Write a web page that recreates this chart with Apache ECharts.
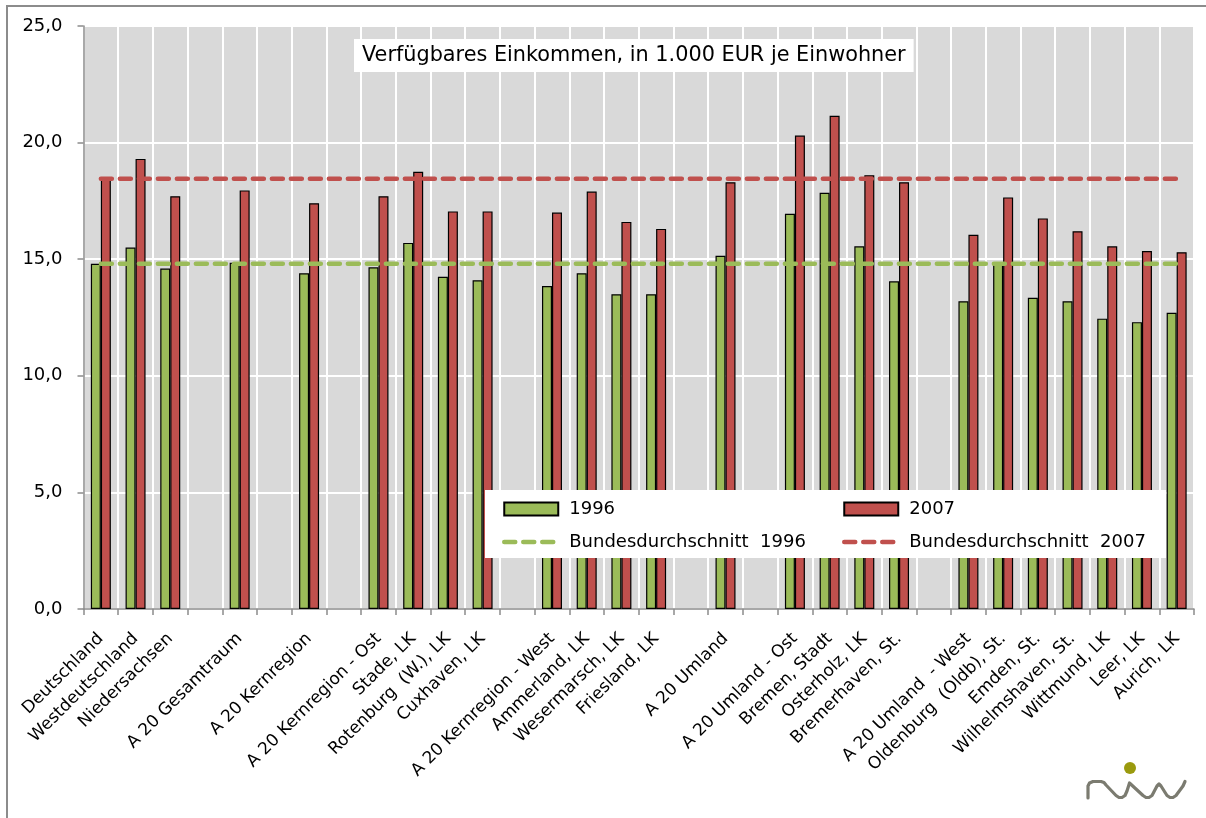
<!DOCTYPE html>
<html>
<head>
<meta charset="utf-8">
<script src="https://cdn.jsdelivr.net/npm/echarts@6/dist/echarts.min.js"></script>
<style>
html,body{margin:0;padding:0;background:#fff;}
#chart{width:1206px;height:818px;}
</style>
</head>
<body>
<div id="chart"></div>
<script>
var categories = ['Deutschland','Westdeutschland','Niedersachsen','','A 20 Gesamtraum','','A 20 Kernregion','',
  'A 20 Kernregion - Ost','Stade, LK','Rotenburg  (W.), LK','Cuxhaven, LK','',
  'A 20 Kernregion - West','Ammerland, LK','Wesermarsch, LK','Friesland, LK','',
  'A 20 Umland','','A 20 Umland - Ost','Bremen, Stadt','Osterholz, LK','Bremerhaven, St.','',
  'A 20 Umland  - West','Oldenburg  (Oldb), St.','Emden, St.','Wilhelmshaven, St.','Wittmund, LK','Leer, LK','Aurich, LK'];
var values1996 = [14.8,15.5,14.6,null,14.85,null,14.4,null,
  14.65,15.7,14.25,14.1,null,
  13.85,14.4,13.5,13.5,null,
  15.15,null,16.95,17.85,15.55,14.05,null,
  13.2,14.85,13.35,13.2,12.45,12.3,12.7];
var values2007 = [18.45,19.3,17.7,null,17.95,null,17.4,null,
  17.7,18.75,17.05,17.05,null,
  17.0,17.9,16.6,16.3,null,
  18.3,null,20.3,21.15,18.6,18.3,null,
  16.05,17.65,16.75,16.2,15.55,15.35,15.3];
var avg1996 = 14.8;
var avg2007 = 18.45;
var yTicks = [0,5,10,15,20,25];
var titleText = 'Verfügbares Einkommen, in 1.000 EUR je Einwohner';
var seriesNames = ['1996','2007','Bundesdurchschnitt  1996','Bundesdurchschnitt  2007'];

var green = '#9BBB59', red = '#C0504D';
var font = 'DejaVu Sans';
var last = categories.length - 1;

var logoPoints = [[1088,798],[1088,786],[1089.5,783],[1093,781.5],[1101,781.5],[1104,782.5],[1106,785],[1116,795.5],[1119,797.5],[1122,797.5],[1125,795.5],[1127,791],[1129.5,783],
  [1143,795.5],[1146,797.5],[1149,797.5],[1152,795.5],[1157,786],[1159,784],[1161,786],[1167,795.5],[1170,797.5],[1173,797.5],[1176,795.5],[1183,786],[1185,781.5]];

var chart = echarts.init(document.getElementById('chart'));
chart.setOption({
  animation: false,
  backgroundColor: '#fff',
  textStyle: {fontFamily: font, color: '#000'},
  title: {
    text: titleText,
    left: 354, top: 39,
    backgroundColor: '#fff',
    padding: [6, 8, 6, 8],
    textStyle: {fontFamily: font, fontSize: 20.8, fontWeight: 'normal', color: '#000'}
  },
  grid: {
    left: 83.5, right: 12, top: 26, bottom: 209,
    show: true, backgroundColor: '#D9D9D9', borderWidth: 0
  },
  graphic: [
    {type: 'rect', z: -10, shape: {x: 7, y: 6, width: 1220, height: 830},
     style: {fill: 'none', stroke: '#8c8c8c', lineWidth: 2}},
    {type: 'rect', z: 100, shape: {x: 485, y: 490, width: 681, height: 68},
     style: {fill: '#fff'}},
    {type: 'circle', z: 100, shape: {cx: 1130, cy: 768, r: 6}, style: {fill: '#9a9a0e'}},
    {type: 'polyline', z: 100, shape: {points: logoPoints},
     style: {stroke: '#7b7b70', lineWidth: 3.2, fill: 'none', lineJoin: 'round', lineCap: 'round'}}
  ],
  legend: [
    {
      z: 101,
      data: [{name: seriesNames[0], icon: 'rect'},
             {name: seriesNames[2], itemStyle: {opacity: 0},
              lineStyle: {width: 4.5, type: [11, 8], cap: 'round', color: green}}],
      orient: 'vertical', left: 502, top: 500, itemGap: 15,
      itemWidth: 54, itemHeight: 13, padding: 0,
      textStyle: {fontFamily: font, fontSize: 18, color: '#000', padding: [0,0,0,6]}
    },
    {
      z: 101,
      data: [{name: seriesNames[1], icon: 'rect'},
             {name: seriesNames[3], itemStyle: {opacity: 0},
              lineStyle: {width: 4.5, type: [11, 8], cap: 'round', color: red}}],
      orient: 'vertical', left: 842, top: 500, itemGap: 15,
      itemWidth: 54, itemHeight: 13, padding: 0,
      textStyle: {fontFamily: font, fontSize: 18, color: '#000', padding: [0,0,0,6]}
    }
  ],
  xAxis: {
    type: 'category',
    data: categories,
    boundaryGap: true,
    axisLine: {lineStyle: {color: '#8c8c8c', width: 1.5}},
    axisTick: {show: true, interval: 0, length: 6, lineStyle: {color: '#8c8c8c', width: 1.5}},
    splitLine: {show: true, interval: 0, lineStyle: {color: '#fff', width: 2}},
    axisLabel: {interval: 0, rotate: 45, margin: 27, fontFamily: font, fontSize: 17, color: '#000'}
  },
  yAxis: {
    type: 'value',
    min: yTicks[0], max: yTicks[yTicks.length-1], interval: 5,
    axisLine: {show: true, lineStyle: {color: '#8c8c8c', width: 1.5}},
    axisTick: {show: true, length: 6, lineStyle: {color: '#8c8c8c', width: 1.5}},
    splitLine: {show: true, lineStyle: {color: '#fff', width: 2}},
    axisLabel: {margin: 21, fontFamily: font, fontSize: 18, color: '#000',
      formatter: function(v){ return v.toFixed(1).replace('.', ','); }}
  },
  series: [
    {name: seriesNames[0], type: 'bar', data: values1996, barWidth: 10, barGap: '0%',
     itemStyle: {color: green, borderColor: '#000', borderWidth: 1.2}},
    {name: seriesNames[1], type: 'bar', data: values2007, barWidth: 10, barGap: '0%',
     itemStyle: {color: red, borderColor: '#000', borderWidth: 1.2}},
    {name: seriesNames[2], type: 'line', data: [[0, avg1996], [last, avg1996]],
     symbol: 'none', itemStyle: {color: green},
     lineStyle: {color: green, width: 4.5, type: [11, 8], cap: 'round'}},
    {name: seriesNames[3], type: 'line', data: [[0, avg2007], [last, avg2007]],
     symbol: 'none', itemStyle: {color: red},
     lineStyle: {color: red, width: 4.5, type: [11, 8], cap: 'round'}}
  ]
});
</script>
</body>
</html>
